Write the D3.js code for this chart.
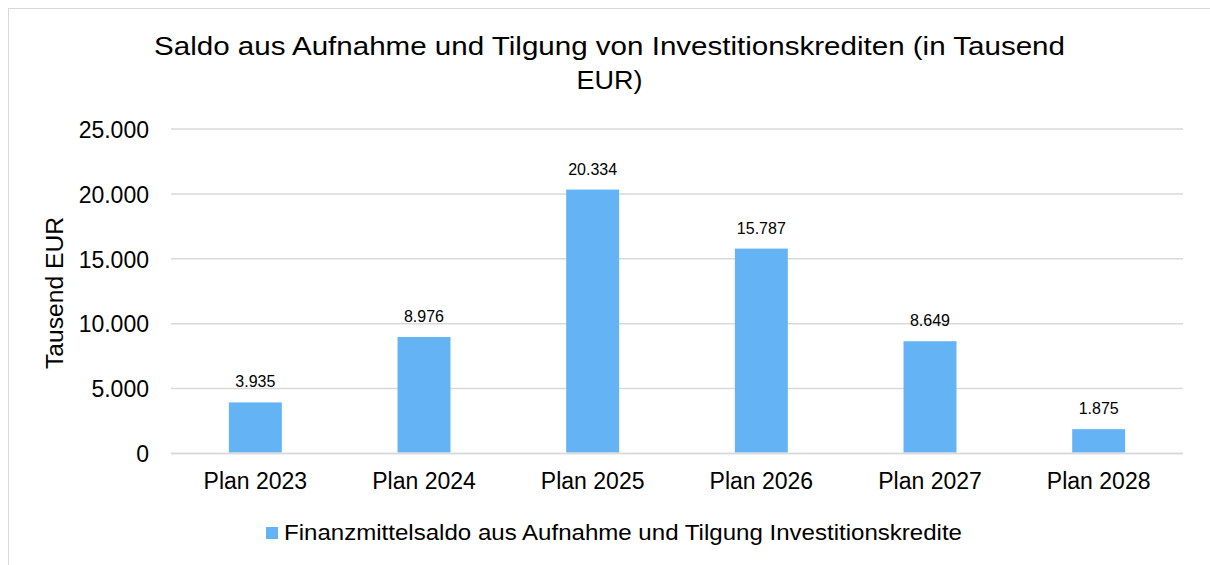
<!DOCTYPE html>
<html><head><meta charset="utf-8">
<script src="https://cdn.jsdelivr.net/npm/d3@7"></script>
<style>body{margin:0;background:#fff;}svg{display:block;font-family:"Liberation Sans",Arial,sans-serif;}</style>
</head><body>
<svg id="c" width="1210" height="565"></svg>
<script>
const categories = ["Plan 2023","Plan 2024","Plan 2025","Plan 2026","Plan 2027","Plan 2028"];
const values = [3935, 8976, 20334, 15787, 8649, 1875];
const yTicks = [0, 5000, 10000, 15000, 20000, 25000];
const seriesName = "Finanzmittelsaldo aus Aufnahme und Tilgung Investitionskredite";
const titleLines = ["Saldo aus Aufnahme und Tilgung von Investitionskrediten (in Tausend", "EUR)"];
const yTitle = "Tausend EUR";

const svg = d3.select("#c");
const fmt = v => d3.format(",")(v).replace(/,/g, ".");
const FONT = "Liberation Sans, Arial, sans-serif";

// outer frame (only top/left visible)
svg.append("rect").attr("x",8.5).attr("y",8.5).attr("width",1220).attr("height",580)
  .attr("fill","none").attr("stroke","#d9d9d9").attr("stroke-width",1);

const L = 171, R = 1183, T = 129, B = 453.5;
const x = d3.scaleBand().domain(categories).range([L, R]).paddingInner(0.686).paddingOuter(0.343);
const y = d3.scaleLinear().domain([0, 25000]).range([B, T]);

// gridlines
svg.append("g").selectAll("line").data(yTicks).join("line")
  .attr("x1", L).attr("x2", R).attr("y1", d => y(d)).attr("y2", d => y(d))
  .attr("stroke", "#d9d9d9").attr("stroke-width", 1.5);

// y axis labels
const yAxis = d3.axisLeft(y).tickValues(yTicks).tickFormat(fmt).tickSize(0).tickPadding(0);
const ga = svg.append("g").attr("transform", `translate(149,0)`).call(yAxis);
ga.select(".domain").remove();
ga.selectAll("text").attr("font-size", 23).attr("fill", "#000").attr("font-family", FONT).attr("dy", "0.36em");

// bars
svg.append("g").selectAll("rect").data(values).join("rect")
  .attr("x", (d,i) => x(categories[i])).attr("width", x.bandwidth())
  .attr("y", d => y(d)).attr("height", d => B - 1 - y(d))
  .attr("fill", "#64b4f5");

// baseline redraw
svg.append("line").attr("x1", L).attr("x2", R).attr("y1", y(0)).attr("y2", y(0))
  .attr("stroke", "#d9d9d9").attr("stroke-width", 1.5);

// data labels
svg.append("g").selectAll("text").data(values).join("text")
  .attr("x", (d,i) => x(categories[i]) + x.bandwidth()/2)
  .attr("y", d => y(d) - 15)
  .attr("text-anchor", "middle").attr("font-size", 16).attr("fill", "#000")
  .text(d => fmt(d));

// x axis labels
const xAxis = d3.axisBottom(x).tickSize(0).tickPadding(0);
const gx = svg.append("g").attr("transform", `translate(0,${B})`).call(xAxis);
gx.select(".domain").remove();
gx.selectAll("text").attr("font-size", 23).attr("fill", "#000").attr("font-family", FONT).attr("dy", null).attr("y", 35.5);

// y title
svg.append("text").attr("transform", "translate(63,293) rotate(-90)")
  .attr("text-anchor", "middle").attr("font-size", 23).attr("fill", "#000")
  .attr("textLength", 152).attr("lengthAdjust", "spacingAndGlyphs").text(yTitle);

// title
svg.append("g").selectAll("text").data(titleLines).join("text")
  .attr("x", 609.5).attr("y", (d,i) => 55 + i*34)
  .attr("text-anchor", "middle").attr("font-size", 26).attr("fill", "#000")
  .attr("textLength", (d,i) => i === 0 ? 911 : 66).attr("lengthAdjust", "spacingAndGlyphs")
  .text(d => d);

// legend
svg.append("rect").attr("x", 266).attr("y", 527).attr("width", 12).attr("height", 12).attr("fill", "#64b4f5");
svg.append("text").attr("x", 284).attr("y", 540).attr("font-size", 22).attr("fill", "#000")
  .attr("textLength", 678).attr("lengthAdjust", "spacingAndGlyphs").text(seriesName);
</script>
</body></html>
